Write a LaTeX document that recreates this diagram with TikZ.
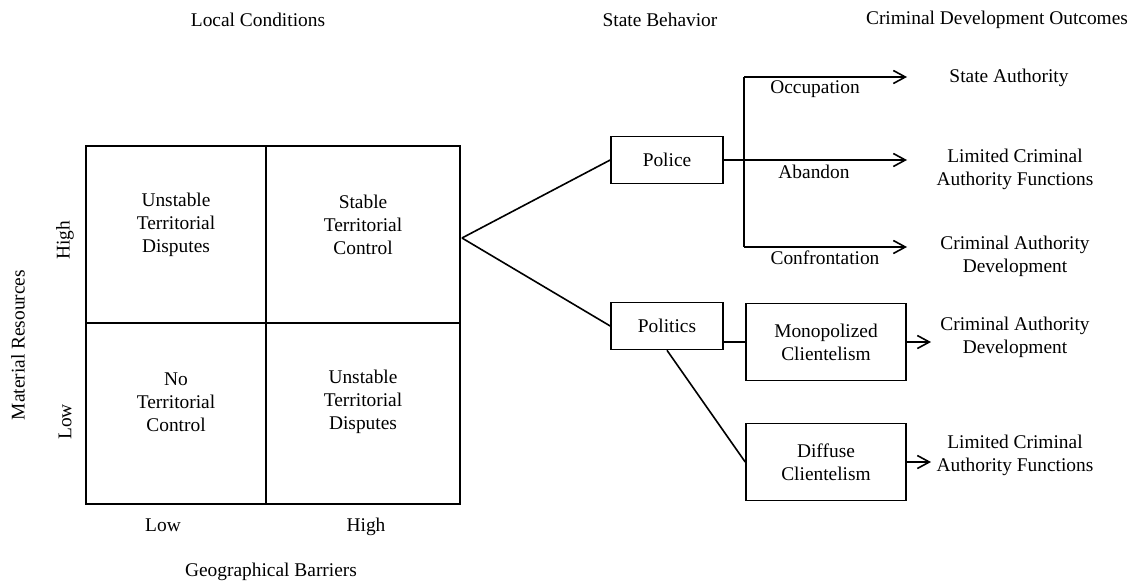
\documentclass[tikz,border=0pt]{standalone}
\usepackage{fontspec}
\setmainfont{Liberation Serif}
\usetikzlibrary{arrows.meta}

\tikzset{
	px/.style={x=0.5pt, y=-0.5pt},
	txt/.style={font=\fontsize{9.7}{11.4}\selectfont, align=center, inner sep=0pt},
	stepbox/.style={draw, thick, minimum width=56pt, minimum height=23.5pt, txt},
	clbox/.style={draw, thick, minimum width=80pt, minimum height=38.5pt, txt},
	arr/.style={thick, -{Straight Barb[length=6pt, width=6.5pt]}}
}

\begin{document}
\begin{tikzpicture}[px]
		\useasboundingbox (0,0) rectangle (1141,584);
		% headings
		\node[txt] (hlocal) at (258,20) {Local Conditions};
		\node[txt] (hstate) at (660,20) {State Behavior};
		\node[txt] (hout) at (997,20) {Criminal Development Outcomes};

		% the 2x2 grid
		\draw[thick] (86,146) rectangle (460,504);
		\draw[thick] (266,146) -- (266,504);
		\draw[thick] (86,323) -- (460,323);
		\node[txt] (ul) at (176,225) {Unstable\\Territorial\\Disputes};
		\node[txt] (ur) at (363,225) {Stable\\Territorial\\Control};
		\node[txt] (ll) at (176,402) {No\\Territorial\\Control};
		\node[txt] (lr) at (363,402) {Unstable\\Territorial\\Disputes};

		% axes
		\node[txt, rotate=90] (yhigh) at (65,240) {High};
		\node[txt, rotate=90] (ylow) at (65,422) {Low};
		\node[txt, rotate=90] (yaxis) at (18,345) {Material Resources};
		\node[txt, anchor=base] (xlow) at (163,531) {Low};
		\node[txt, anchor=base] (xhigh) at (366,531) {High};
		\node[txt] (xaxis) at (271,572) {Geographical Barriers};

		% state behavior
		\coordinate (fork) at (462,238);
		\node[stepbox] (police) at (667,160) {Police};
		\node[stepbox] (politics) at (667,326) {Politics};
		\draw[thick] (fork) -- (police.west);
		\draw[thick] (fork) -- (politics.west);

		\coordinate (split) at (744,160);
		\coordinate (tipocc) at (907,77);
		\coordinate (tipaba) at (907,160);
		\coordinate (tipcon) at (907,247);
		\draw[thick] (split |- tipocc) -- (split |- tipcon);
		\draw[arr] (split |- tipocc) -- (tipocc);
		\draw[arr] (police.east) -- (tipaba);
		\draw[arr] (split |- tipcon) -- (tipcon);
		\node[txt] (occ) at (815,89) {Occupation};
		\node[txt] (aba) at (814,172) {Abandon};
		\node[txt] (con) at (825,258) {Confrontation};

		\node[clbox] (mono) at (826,342) {Monopolized\\Clientelism};
		\node[clbox] (diff) at (826,462) {Diffuse\\Clientelism};
		\draw[thick] (politics.east |- mono.west) -- (mono.west);
		\draw[thick] (politics.south) -- (diff.west);

		% outcomes
		\node[txt] (o1) at (1009,78) {State Authority};
		\node[txt] (o2) at (1015,169) {Limited Criminal\\Authority Functions};
		\node[txt] (o3) at (1015,256) {Criminal Authority\\Development};
		\node[txt] (o4) at (1015,337) {Criminal Authority\\Development};
		\node[txt] (o5) at (1015,455) {Limited Criminal\\Authority Functions};
		\coordinate (tipmono) at (931,342);
		\coordinate (tipdiff) at (931,462);
		\draw[arr] (mono.east) -- (tipmono);
		\draw[arr] (diff.east) -- (tipdiff);
	\end{tikzpicture}
\end{document}
